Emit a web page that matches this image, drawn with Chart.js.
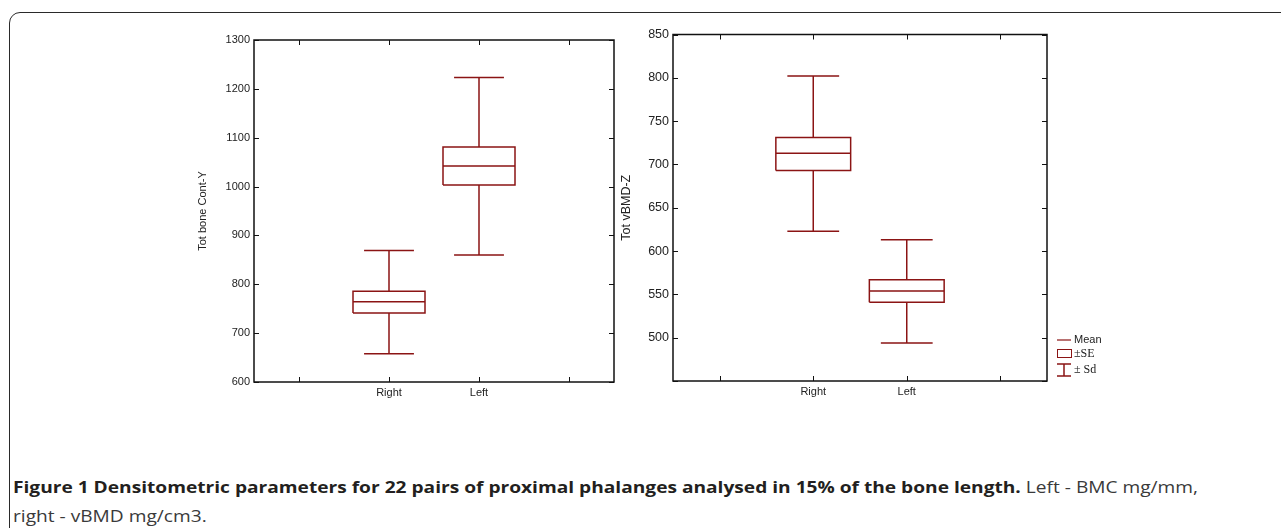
<!DOCTYPE html>
<html>
<head>
<meta charset="utf-8">
<script src="https://cdn.jsdelivr.net/npm/chart.js@4.4.1/dist/chart.umd.min.js"></script>
<style>
  body { margin: 0; background: #fff; width: 1281px; height: 528px; overflow: hidden; position: relative; }
  #frame { position: absolute; left: 9px; top: 12px; width: 1320px; height: 600px; border: 1.6px solid #2a2a2a; border-radius: 11px; box-sizing: border-box; }
  .box { position: absolute; }
  #caption { position: absolute; left: 13px; top: 472px; font-family: "Open Sans", sans-serif; font-size: 16.5px; line-height: 29px; color: #231f20; white-space: nowrap; transform-origin: 0 0; }
  #caption b { font-weight: 700; }
  #caption span.r { color: #3a3a3a; }
</style>
</head>
<body>
<div id="frame"></div>
<div class="box" style="left:180px; top:29px; width:450px; height:381px;"><canvas id="bmcChart"></canvas></div>
<div class="box" style="left:600px; top:23px; width:520px; height:386px;"><canvas id="vbmdChart"></canvas></div>
<div id="caption"><b>Figure 1 Densitometric parameters for 22 pairs of proximal phalanges analysed in 15% of the bone length.</b> <span class="r">Left - BMC mg/mm,</span><br><span class="r">right - vBMD mg/cm3.</span></div>
<script>
// groups on the x axis
const groups = ["Right", "Left"];
const groupTicks = [-1, 0, 1, 2]; // outer two are blank slots

// left panel: total bone content (mean, +-SE, +-SD)
const bmcMean = [764, 1042];
const bmcSeLow = [741, 1003];
const bmcSeHigh = [786, 1081];
const bmcSdLow = [658, 860];
const bmcSdHigh = [869, 1223];

// right panel: total vBMD
const vbmdMean = [713, 554];
const vbmdSeLow = [693, 541];
const vbmdSeHigh = [731, 567];
const vbmdSdLow = [623, 494];
const vbmdSdHigh = [802, 613];

// legend entries
const legendLabels = ["Mean", "\u00B1SE", "\u00B1 Sd"];

const RED = "#8b1414";
const BOX_HALF = 0.4;
const CAP_HALF = 0.277;

// turn the stats into line segments (null y breaks the line)
function boxSegments(mean, seLo, seHi, sdLo, sdHi) {
  const pts = [];
  const gap = (x) => pts.push({ x: x, y: null });
  groups.forEach((g, i) => {
    // SE box
    pts.push({ x: i - BOX_HALF, y: seLo[i] }, { x: i + BOX_HALF, y: seLo[i] },
             { x: i + BOX_HALF, y: seHi[i] }, { x: i - BOX_HALF, y: seHi[i] },
             { x: i - BOX_HALF, y: seLo[i] });
    gap(i);
    // mean line
    pts.push({ x: i - BOX_HALF, y: mean[i] }, { x: i + BOX_HALF, y: mean[i] });
    gap(i);
    // upper whisker + cap
    pts.push({ x: i, y: seHi[i] }, { x: i, y: sdHi[i] });
    gap(i);
    pts.push({ x: i - CAP_HALF, y: sdHi[i] }, { x: i + CAP_HALF, y: sdHi[i] });
    gap(i);
    // lower whisker + cap
    pts.push({ x: i, y: seLo[i] }, { x: i, y: sdLo[i] });
    gap(i);
    pts.push({ x: i - CAP_HALF, y: sdLo[i] }, { x: i + CAP_HALF, y: sdLo[i] });
    gap(i);
  });
  return pts;
}

// frame around plot area with ticks pointing inward
const frameTicks = {
  id: "frameTicks",
  afterDraw(chart) {
    const { ctx, chartArea: a, scales } = chart;
    const len = 5;
    ctx.save();
    ctx.strokeStyle = "#111";
    ctx.lineWidth = 1.5;
    ctx.strokeRect(a.left, a.top, a.right - a.left, a.bottom - a.top);
    ctx.lineWidth = 1;
    ctx.beginPath();
    scales.y.ticks.forEach((t) => {
      const y = Math.round(scales.y.getPixelForValue(t.value)) + 0.5;
      ctx.moveTo(a.left, y); ctx.lineTo(a.left + len, y);
      ctx.moveTo(a.right, y); ctx.lineTo(a.right - len, y);
    });
    scales.x.ticks.forEach((t) => {
      const x = Math.round(scales.x.getPixelForValue(t.value)) + 0.5;
      ctx.moveTo(x, a.bottom); ctx.lineTo(x, a.bottom - len);
      ctx.moveTo(x, a.top); ctx.lineTo(x, a.top + len);
    });
    ctx.stroke();
    ctx.restore();
  },
};

// small legend to the right of the vBMD panel
const sideLegend = {
  id: "sideLegend",
  afterDraw(chart) {
    const { ctx, chartArea: a } = chart;
    const x0 = a.right + 10, x1 = x0 + 14, xm = (x0 + x1) / 2;
    const ys = [a.bottom - 41, a.bottom - 27, a.bottom - 11];
    ctx.save();
    ctx.strokeStyle = RED;
    ctx.lineWidth = 1.2;
    ctx.beginPath();
    ctx.moveTo(x0, ys[0]); ctx.lineTo(x1, ys[0]);
    ctx.stroke();
    ctx.lineWidth = 1;
    ctx.strokeRect(x0 + 0.5, ys[1] - 4.5, 14, 8);
    ctx.lineWidth = 1.5;
    ctx.beginPath();
    ctx.moveTo(x0, ys[2] - 6); ctx.lineTo(x1, ys[2] - 6);
    ctx.moveTo(xm, ys[2] - 6); ctx.lineTo(xm, ys[2] + 6);
    ctx.moveTo(x0, ys[2] + 6); ctx.lineTo(x1, ys[2] + 6);
    ctx.stroke();
    ctx.fillStyle = "#222";
    ctx.textBaseline = "middle";
    ctx.font = "11px 'Liberation Sans', Arial, sans-serif";
    ctx.fillText(legendLabels[0], x1 + 3, ys[0]);
    ctx.font = "12px 'Liberation Serif', 'Times New Roman', serif";
    ctx.fillText(legendLabels[1], x1 + 3, ys[1]);
    ctx.fillText(legendLabels[2], x1 + 3, ys[2]);
    ctx.restore();
  },
};

const FAMILY = "'Liberation Sans', Arial, sans-serif";

function makeChart(id, segs, yMin, yMax, yStep, yTitle, yWidth, yFont, titlePad, pad, hideFirst, extra) {
  return new Chart(document.getElementById(id), {
    type: "line",
    data: {
      datasets: [
        {
          data: segs,
          borderColor: RED,
          borderWidth: 1.5,
          pointRadius: 0,
          fill: false,
          spanGaps: false,
          tension: 0,
        },
      ],
    },
    options: {
      responsive: true,
      maintainAspectRatio: false,
      animation: false,
      events: [],
      layout: { padding: pad },
      plugins: { legend: { display: false }, tooltip: { enabled: false } },
      scales: {
        x: {
          type: "linear",
          min: -1.5,
          max: 2.5,
          afterFit: (s) => { s.height = 28; },
          afterBuildTicks: (s) => { s.ticks = groupTicks.map((v) => ({ value: v })); },
          grid: { display: false, drawTicks: false },
          border: { display: false },
          ticks: {
            autoSkip: false,
            maxRotation: 0,
            padding: 4,
            color: "#222",
            font: { family: FAMILY, size: 11 },
            callback: (v) => (groups[v] !== undefined ? groups[v] : ""),
          },
        },
        y: {
          min: yMin,
          max: yMax,
          afterFit: (s) => { s.width = yWidth; },
          grid: { display: false, drawTicks: false },
          border: { display: false },
          title: { display: true, text: yTitle, color: "#222", font: { family: FAMILY, size: yFont }, padding: { top: titlePad, bottom: 0 } },
          ticks: {
            stepSize: yStep,
            padding: 4,
            color: "#222",
            font: { family: FAMILY, size: yFont },
            callback: (v) => (hideFirst && v === yMin ? "" : v),
          },
        },
      },
    },
    plugins: extra,
  });
}

makeChart("bmcChart", boxSegments(bmcMean, bmcSeLow, bmcSeHigh, bmcSdLow, bmcSdHigh),
  600, 1300, 100, "Tot bone Cont-Y", 74, 11, 16, { top: 11, right: 16 }, false, [frameTicks]);

makeChart("vbmdChart", boxSegments(vbmdMean, vbmdSeLow, vbmdSeHigh, vbmdSdLow, vbmdSdHigh),
  450, 850, 50, "Tot vBMD-Z", 73, 12.5, 19, { top: 11, right: 73 }, true, [frameTicks, sideLegend]);

// squeeze caption to the reference line width
const cap = document.getElementById("caption");
const w = cap.getBoundingClientRect().width;
cap.style.transform = "scaleX(" + (1185 / w) + ")";
</script>
</body>
</html>
